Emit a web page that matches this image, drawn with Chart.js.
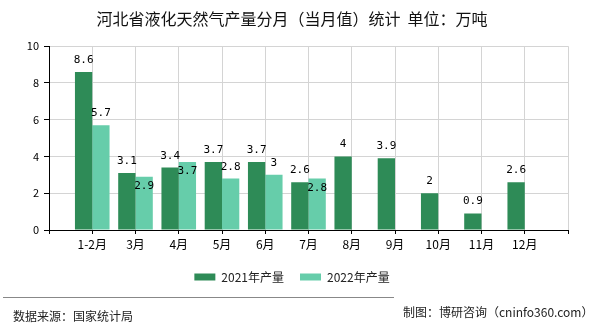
<!DOCTYPE html>
<html>
<head>
<meta charset="utf-8">
<script src="https://cdn.jsdelivr.net/npm/chart.js@4.4.0/dist/chart.umd.min.js"></script>
<style>
  body { margin: 0; background: #fff; }
</style>
</head>
<body>
<canvas id="gasChart" width="590" height="330"></canvas>
<script>
const months = ["1-2月", "3月", "4月", "5月", "6月", "7月", "8月", "9月", "10月", "11月", "12月"];
const output2021 = [8.6, 3.1, 3.4, 3.7, 3.7, 2.6, 4, 3.9, 2, 0.9, 2.6];
const output2022 = [5.7, 2.9, 3.7, 2.8, 3, 2.8];
const yTicks = [0, 2, 4, 6, 8, 10];

const FONT = "'Noto Sans CJK SC', 'Liberation Sans', sans-serif";
Chart.defaults.font.family = FONT;

// empty slot on each side so the months sit one step in from the edges
const axisLabels = ["", ...months, ""];
function pad(values) {
  const out = [null, ...values];
  while (out.length < axisLabels.length) out.push(null);
  return out;
}

// value labels above bars; a 2022 label that would hit the 2021 one goes inside its bar
const barLabels = {
  id: "barLabels",
  afterDatasetsDraw(chart) {
    const ctx = chart.ctx;
    ctx.save();
    ctx.font = "11px 'DejaVu Sans Mono', monospace";
    ctx.fillStyle = "#000";
    ctx.textAlign = "center";
    ctx.textBaseline = "alphabetic";
    const placed = {};
    chart.data.datasets.forEach((ds, di) => {
      chart.getDatasetMeta(di).data.forEach((bar, i) => {
        const v = ds.data[i];
        if (v === null || v === undefined) return;
        const text = String(v);
        const w = ctx.measureText(text).width;
        let base = bar.y - 9;
        const box = { l: bar.x - w / 2, r: bar.x + w / 2, t: base - 8, b: base };
        const prev = placed[i];
        if (prev && box.l < prev.r && box.r > prev.l && box.t < prev.b && box.b > prev.t) {
          base = bar.y + 12;
        } else {
          placed[i] = box;
        }
        ctx.fillText(text, bar.x, base);
      });
    });
    ctx.restore();
  }
};

// source line and credits under the legend
const footer = {
  id: "footer",
  afterDraw(chart) {
    const ctx = chart.ctx;
    ctx.save();
    ctx.strokeStyle = "#888";
    ctx.lineWidth = 1;
    ctx.beginPath();
    ctx.moveTo(3, 297.5);
    ctx.lineTo(394, 297.5);
    ctx.stroke();
    ctx.fillStyle = "#222";
    ctx.font = "12px " + FONT;
    ctx.textBaseline = "middle";
    ctx.textAlign = "left";
    ctx.fillText("数据来源：国家统计局", 13, 316);
    ctx.fillText("制图：博研咨询（cninfo360.com）", 403, 312);
    ctx.restore();
  }
};

new Chart(document.getElementById("gasChart"), {
  type: "bar",
  data: {
    labels: axisLabels,
    datasets: [
      {
        label: "2021年产量",
        data: pad(output2021),
        backgroundColor: "#2e8b57",
      },
      {
        label: "2022年产量",
        data: pad(output2022),
        backgroundColor: "#66cdaa",
      },
    ],
  },
  options: {
    responsive: false,
    animation: false,
    devicePixelRatio: 1,
    layout: { padding: { top: 0, right: 6, bottom: 37, left: 0 } },
    datasets: { bar: { categoryPercentage: 0.8, barPercentage: 1 } },
    plugins: {
      title: {
        display: true,
        text: "河北省液化天然气产量分月（当月值）统计  单位：万吨",
        color: "#111",
        font: { size: 16, weight: "normal" },
        padding: { top: 9, bottom: 18 },
      },
      legend: {
        position: "bottom",
        labels: {
          boxWidth: 21,
          boxHeight: 7,
          padding: 16,
          color: "#222",
          font: { size: 12 },
        },
      },
      tooltip: { enabled: false },
    },
    scales: {
      x: {
        offset: false,
        grid: { color: "#d4d4d4", tickColor: "#000", tickLength: 4, offset: false },
        border: { color: "#000" },
        ticks: { color: "#000", font: { size: 12 }, padding: 3, autoSkip: false, maxRotation: 0 },
        afterFit(scale) { scale.height = 25; },
      },
      y: {
        min: 0,
        max: 10,
        grid: { color: "#d4d4d4", tickColor: "#000", tickLength: 5 },
        border: { color: "#000" },
        ticks: { color: "#000", font: { size: 11 }, padding: 5 },
        afterBuildTicks(scale) { scale.ticks = yTicks.map((v) => ({ value: v })); },
        afterFit(scale) { scale.width = 49; },
      },
      y2: {
        position: "right",
        grid: { display: false },
        border: { display: false },
        ticks: { display: false },
        afterFit(scale) { scale.width = 16; },
      },
    },
  },
  plugins: [barLabels, footer],
});
</script>
</body>
</html>
